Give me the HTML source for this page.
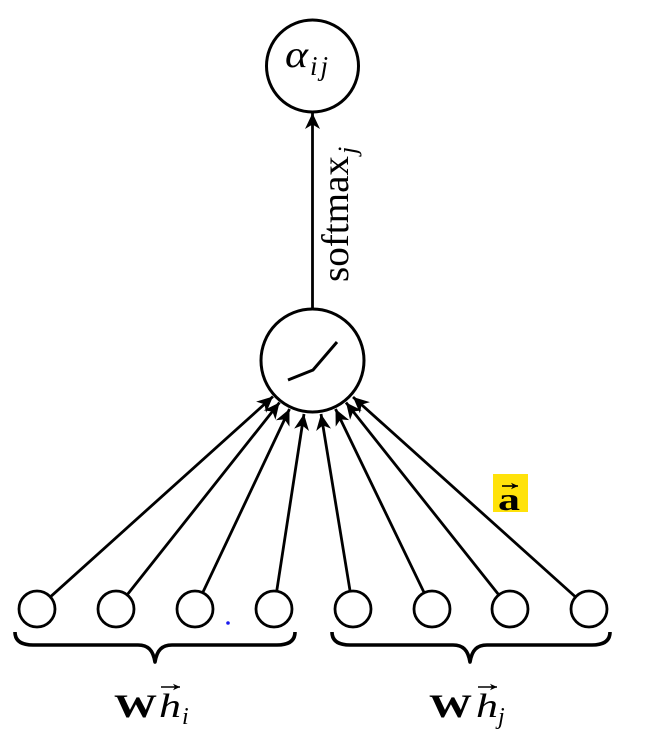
<!DOCTYPE html>
<html>
<head>
<meta charset="utf-8">
<style>
  html, body { margin: 0; padding: 0; background: #ffffff; }
  body { width: 650px; height: 749px; overflow: hidden; }
  svg { display: block; }
  text { font-family: "Liberation Serif", "DejaVu Serif", serif; fill: #000; }
</style>
</head>
<body>
<svg width="650" height="749" viewBox="0 0 650 749" xmlns="http://www.w3.org/2000/svg">
  <defs>
    <marker id="ah" markerUnits="userSpaceOnUse" viewBox="-18 -9 19 18" markerWidth="19" markerHeight="18" refX="0" refY="0" orient="auto">
      <path d="M0,0 L-16,-7.5 L-11.5,0 L-16,7.5 Z" fill="#000"/>
    </marker>
    <marker id="ahs" markerUnits="userSpaceOnUse" viewBox="-8 -4 9 8" markerWidth="9" markerHeight="8" refX="0" refY="0" orient="auto">
      <path d="M0,0 L-7,-3.2 L-5,0 L-7,3.2 Z" fill="#000"/>
    </marker>
  </defs>

  <!-- top node alpha_ij -->
  <circle cx="312.5" cy="66" r="46" fill="none" stroke="#000" stroke-width="3"/>
  <text x="285" y="67" font-size="38" font-style="italic" textLength="23" lengthAdjust="spacingAndGlyphs">α</text>
  <text x="310" y="75" font-size="27" font-style="italic" letter-spacing="3">ij</text>

  <!-- vertical arrow -->
  <line x1="312.5" y1="309" x2="312.5" y2="113" stroke="#000" stroke-width="2.8" marker-end="url(#ah)"/>

  <!-- softmax_j label rotated -->
  <g transform="translate(348,282) rotate(-90)">
    <text x="0" y="0" font-size="38" textLength="126" lengthAdjust="spacingAndGlyphs">softmax</text>
    <text x="128" y="8" font-size="26" font-style="italic">j</text>
  </g>

  <!-- middle node (ReLU) -->
  <circle cx="312.5" cy="360.5" r="51.5" fill="none" stroke="#000" stroke-width="3"/>
  <polyline points="288,380 313,370 337,342" fill="none" stroke="#000" stroke-width="3"/>

  <!-- arrows from bottom nodes -->
  <g stroke="#000" stroke-width="2.8" marker-end="url(#ah)">
    <line x1="50.3" y1="596.9" x2="273" y2="396.5"/>
    <line x1="127.1" y1="594.9" x2="279.5" y2="402.5"/>
    <line x1="202.7" y1="592.7" x2="289.5" y2="409"/>
    <line x1="276.7" y1="591.2" x2="304" y2="414"/>
    <line x1="350.1" y1="591.2" x2="321" y2="414"/>
    <line x1="424.2" y1="592.8" x2="335.5" y2="409"/>
    <line x1="498.8" y1="594.9" x2="346" y2="402.5"/>
    <line x1="575.6" y1="597.0" x2="353" y2="397"/>
  </g>

  <!-- bottom nodes -->
  <g fill="#fff" stroke="#000" stroke-width="2.8">
    <circle cx="37" cy="609" r="18"/>
    <circle cx="116" cy="609" r="18"/>
    <circle cx="195" cy="609" r="18"/>
    <circle cx="274" cy="609" r="18"/>
    <circle cx="353" cy="609" r="18"/>
    <circle cx="432" cy="609" r="18"/>
    <circle cx="510" cy="609" r="18"/>
    <circle cx="589" cy="609" r="18"/>
  </g>

  <!-- blue dot -->
  <circle cx="228" cy="623" r="1.8" fill="#1a1aee"/>

  <!-- braces -->
  <path d="M15,632 C15,640 20,645 33,645 L138,645 C148,645 153,650 155,662 C157,650 162,645 172,645 L277,645 C290,645 295,640 295,632"
        fill="none" stroke="#000" stroke-width="3.6" stroke-linejoin="round"/>
  <path d="M332,632 C332,640 337,645 350,645 L453,645 C463,645 468,650 470,662 C472,650 477,645 487,645 L592,645 C605,645 610,640 610,632"
        fill="none" stroke="#000" stroke-width="3.6" stroke-linejoin="round"/>

  <!-- label W h_i -->
  <text x="114" y="717" font-size="33" font-weight="bold" textLength="43" lengthAdjust="spacingAndGlyphs">W</text>
  <text x="159" y="717" font-size="34" font-style="italic" textLength="22" lengthAdjust="spacingAndGlyphs">h</text>
  <line x1="161" y1="687" x2="180" y2="687" stroke="#000" stroke-width="1.6" marker-end="url(#ahs)"/>
  <text x="182" y="724" font-size="24" font-style="italic">i</text>

  <!-- label W h_j -->
  <text x="429" y="717" font-size="33" font-weight="bold" textLength="43" lengthAdjust="spacingAndGlyphs">W</text>
  <text x="476" y="717" font-size="34" font-style="italic" textLength="22" lengthAdjust="spacingAndGlyphs">h</text>
  <line x1="478" y1="687" x2="497" y2="687" stroke="#000" stroke-width="1.6" marker-end="url(#ahs)"/>
  <text x="498" y="724" font-size="24" font-style="italic">j</text>

  <!-- highlighted a -->
  <rect x="493" y="474" width="35" height="38" fill="#ffe20a"/>
  <text x="498" y="510" font-size="32" font-weight="bold" textLength="22" lengthAdjust="spacingAndGlyphs">a</text>
  <line x1="502" y1="486" x2="518" y2="486" stroke="#000" stroke-width="1.6" marker-end="url(#ahs)"/>
</svg>
</body>
</html>
